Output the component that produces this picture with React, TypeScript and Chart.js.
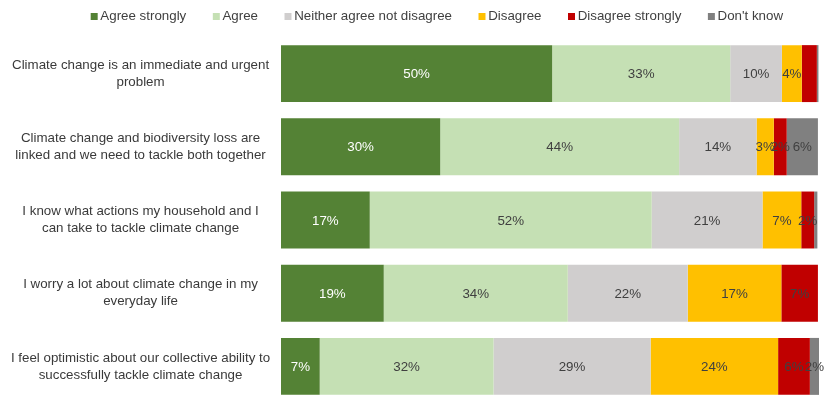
import React, { useEffect, useRef } from "react";
import { Chart, registerables } from "chart.js";

Chart.register(...registerables);

const statements: string[][] = [
  ["Climate change is an immediate and urgent", "problem"],
  ["Climate change and biodiversity loss are", "linked and we need to tackle both together"],
  ["I know what actions my household and I", "can take to tackle climate change"],
  ["I worry a lot about climate change in my", "everyday life"],
  ["I feel optimistic about our collective ability to", "successfully tackle climate change"],
];

const seriesNames = [
  "Agree strongly",
  "Agree",
  "Neither agree not disagree",
  "Disagree",
  "Disagree strongly",
  "Don't know",
];

const agreeStrongly = [50.4, 29.6, 16.5, 19.1, 7.2];
const agree = [33.1, 44.4, 52.4, 34.2, 32.3];
const neither = [9.6, 14.4, 20.6, 22.3, 29.2];
const disagree = [3.7, 3.2, 7.2, 17.4, 23.7];
const disagreeStrongly = [2.8, 2.4, 2.4, 6.8, 5.9];
const dontKnow = [0.3, 5.8, 0.6, 0, 1.7];

const seriesColors = ["#548235", "#C5E0B4", "#D0CECE", "#FFC000", "#C00000", "#808080"];
const labelColors = ["#FFFFFF", "#404040", "#404040", "#404040", "#404040", "#404040"];

// cells (series index, statement index) whose value label is not shown
const hiddenLabels = ["4:0", "5:0", "5:2", "5:3"];

const FONT = "'Liberation Sans', Arial, sans-serif";

export default function App() {
  const ref = useRef<HTMLCanvasElement | null>(null);

  useEffect(() => {
    if (!ref.current) return;
    const swatch = (color: string) => {
      const c = document.createElement("canvas");
      c.width = 19;
      c.height = 7;
      const g = c.getContext("2d")!;
      g.fillStyle = color;
      g.fillRect(10, 0, 7, 7);
      return c;
    };
    const swatches = seriesColors.map(swatch);
    const allSeries = [agreeStrongly, agree, neither, disagree, disagreeStrongly, dontKnow];

    const valueLabels = {
      id: "valueLabels",
      afterDatasetsDraw(chart: any) {
        const ctx = chart.ctx;
        ctx.save();
        ctx.font = `13.33px ${FONT}`;
        ctx.textAlign = "center";
        ctx.textBaseline = "middle";
        chart.data.datasets.forEach((ds: any, i: number) => {
          const meta = chart.getDatasetMeta(i);
          meta.data.forEach((bar: any, j: number) => {
            const v = ds.data[j];
            if (v < 1 || hiddenLabels.includes(`${i}:${j}`)) return;
            const p = bar.getProps(["x", "base", "y"], true);
            ctx.fillStyle = labelColors[i];
            ctx.fillText(`${Math.round(v)}%`, (p.x + p.base) / 2, p.y + 1);
          });
        });
        ctx.restore();
      },
    };

    const legendShift = {
      id: "legendShift",
      afterLayout(chart: any) {
        const lg = chart.legend;
        if (!lg) return;
        lg.top -= 13;
        lg.bottom -= 13;
        lg.left += 25.3;
        lg.right += 25.3;
      },
    };

    const chart = new Chart(ref.current, {
      type: "bar",
      data: {
        labels: statements,
        datasets: allSeries.map((d, i) => ({
          label: seriesNames[i],
          data: d,
          backgroundColor: seriesColors[i],
          borderWidth: 0,
          barPercentage: 0.778,
          categoryPercentage: 1,
        })),
      },
      options: {
        indexAxis: "y",
        responsive: false,
        animation: false,
        layout: { padding: { left: 0.1, right: 11, top: 0, bottom: 4 } },
        scales: {
          x: { stacked: true, display: false, min: 0, max: 100 },
          y: {
            stacked: true,
            grid: { display: false, drawTicks: false },
            border: { display: false },
            afterFit: (s: any) => {
              s.paddingTop = 0;
              s.paddingBottom = 0;
            },
            ticks: {
              crossAlign: "center",
              padding: 10.8,
              color: "#3a3a3a",
              autoSkip: false,
              font: { family: FONT, size: 13.33, lineHeight: 1.28 },
            },
          },
        },
        plugins: {
          tooltip: { enabled: false },
          legend: {
            position: "top",
            maxHeight: 37,
            labels: {
              usePointStyle: true,
              boxWidth: 7,
              boxHeight: 7,
              padding: 22.5,
              color: "#404040",
              font: { family: FONT, size: 13.33 },
              generateLabels: (c: any) =>
                Chart.defaults.plugins.legend.labels
                  .generateLabels(c)
                  .map((item: any, i: number) => ({ ...item, pointStyle: swatches[i] })),
            },
          },
        },
      } as any,
      plugins: [valueLabels, legendShift],
    });
    return () => chart.destroy();
  }, []);

  return (
    <div style={{ position: "fixed", left: 0, top: 0, width: 830, height: 407, background: "#fff" }}>
      <canvas ref={ref} width={830} height={407} style={{ display: "block" }} />
    </div>
  );
}
